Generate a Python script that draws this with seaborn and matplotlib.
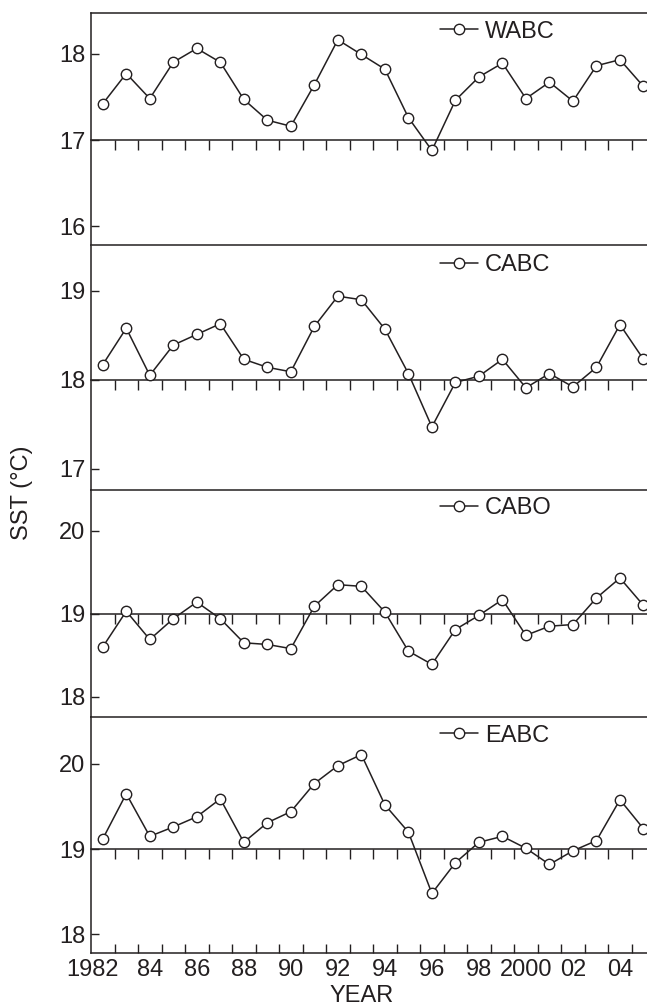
import numpy as np
import pandas as pd
import matplotlib
matplotlib.use('Agg')
import matplotlib.pyplot as plt
import seaborn as sns

# Dane (SST, °C)
years = list(range(1982, 2006))
wabc = [17.42, 17.77, 17.48, 17.90, 18.06, 17.90, 17.47, 17.23, 17.16, 17.64,
        18.16, 17.99, 17.82, 17.26, 16.88, 17.46, 17.73, 17.89, 17.48, 17.67,
        17.45, 17.86, 17.93, 17.62]
cabc = [18.17, 18.58, 18.05, 18.39, 18.51, 18.63, 18.23, 18.14, 18.09, 18.60,
        18.94, 18.90, 18.57, 18.07, 17.47, 17.97, 18.04, 18.23, 17.91, 18.07,
        17.92, 18.14, 18.62, 18.23]
cabo = [18.60, 19.03, 18.69, 18.94, 19.14, 18.94, 18.65, 18.63, 18.58, 19.09,
        19.35, 19.33, 19.02, 18.55, 18.39, 18.81, 18.98, 19.17, 18.74, 18.85,
        18.87, 19.19, 19.43, 19.10]
eabc = [19.12, 19.65, 19.15, 19.26, 19.38, 19.59, 19.08, 19.31, 19.44, 19.77,
        19.98, 20.11, 19.52, 19.20, 18.48, 18.84, 19.08, 19.15, 19.01, 18.82,
        18.98, 19.10, 19.58, 19.24]

regions = ['WABC', 'CABC', 'CABO', 'EABC']
ref_levels = [17, 18, 19, 19]
y_limits = [(15.78, 18.47), (16.76, 19.51), (17.76, 20.49), (17.78, 20.555)]
y_ticks = [[16, 17, 18], [17, 18, 19], [18, 19, 20], [18, 19, 20]]
tick_years = [1982, 1984, 1986, 1988, 1990, 1992, 1994, 1996, 1998, 2000, 2002, 2004]
tick_text = ['1982', '84', '86', '88', '90', '92', '94', '96', '98', '2000', '02', '04']

df = pd.DataFrame({
    'Year': years * 4,
    'SST': wabc + cabc + cabo + eabc,
    'Region': [r for r in regions for _ in years],
})

sns.set_style('ticks')
plt.rcParams['font.family'] = ['Liberation Sans', 'DejaVu Sans']
plt.rcParams['font.size'] = 17
ink = '#231f20'
fs = 17

fig = plt.figure(figsize=(6.47, 10.05), dpi=100)
W, H = 647, 1005
bounds = [13, 245.5, 490, 716.7, 953]
left = 91 / W
minor_years = np.arange(1982.5, 2005, 1)

axes = []
for i, name in enumerate(regions):
    bottom = 1 - bounds[i + 1] / H
    height = (bounds[i + 1] - bounds[i]) / H
    ax = fig.add_axes([left, bottom, 1 - left, height])
    sub = df[df['Region'] == name]
    sns.lineplot(data=sub, x='Year', y='SST', ax=ax, color=ink, lw=1.1,
                 marker='o', markersize=7.5, markerfacecolor='white',
                 markeredgecolor=ink, markeredgewidth=1.0, label=name,
                 zorder=3, clip_on=False)
    ax.set_xlim(1981.5, 2005.15)
    ax.set_ylim(*y_limits[i])
    ax.set_xlabel('')
    ax.set_ylabel('')

    # linia odniesienia z kreskami w dół
    ax.spines['bottom'].set_position(('data', ref_levels[i]))
    ax.spines['right'].set_visible(False)
    for s in ['bottom', 'top', 'left']:
        ax.spines[s].set_color(ink)
        ax.spines[s].set_linewidth(1.1)

    ax.set_xticks(tick_years)
    ax.set_xticks(minor_years, minor=True)
    ax.tick_params(axis='x', which='major', length=0, labelbottom=False)
    ax.tick_params(axis='x', which='minor', direction='out', length=7,
                   width=1, color=ink)
    ax.set_yticks(y_ticks[i])
    ax.tick_params(axis='y', direction='in', length=5.5, width=1, pad=4,
                   color=ink, labelcolor=ink, labelsize=fs)

    leg = ax.legend(loc='center left', bbox_to_anchor=(0.628, 0.92),
                    frameon=False, borderpad=0, borderaxespad=0,
                    handlelength=1.6, handletextpad=0.3, fontsize=fs)
    for t in leg.get_texts():
        t.set_color(ink)
    axes.append(ax)

# dolna oś z etykietami lat
ax = axes[-1]
sec = ax.secondary_xaxis('bottom')
label_pos = list(tick_years)
label_pos[0] = 1981.57  # "1982" lekko przesunięte w lewo
sec.set_xticks(label_pos, labels=tick_text)
sec.set_xticks(minor_years, minor=True)
sec.tick_params(axis='x', which='major', length=0, pad=4, labelsize=fs,
                labelcolor=ink)
sec.tick_params(axis='x', which='minor', direction='in', length=6.7,
                width=1, color=ink)
sec.spines['bottom'].set_color(ink)
sec.spines['bottom'].set_linewidth(1.1)

fig.text(22 / W, 1 - 493 / H, 'SST (°C)', rotation=90, ha='center',
         va='center', fontsize=fs, color=ink)
fig.text(362 / W, 1 - 996 / H, 'YEAR', ha='center', va='center',
         fontsize=fs, color=ink)

fig.savefig('out.png', dpi=100)
